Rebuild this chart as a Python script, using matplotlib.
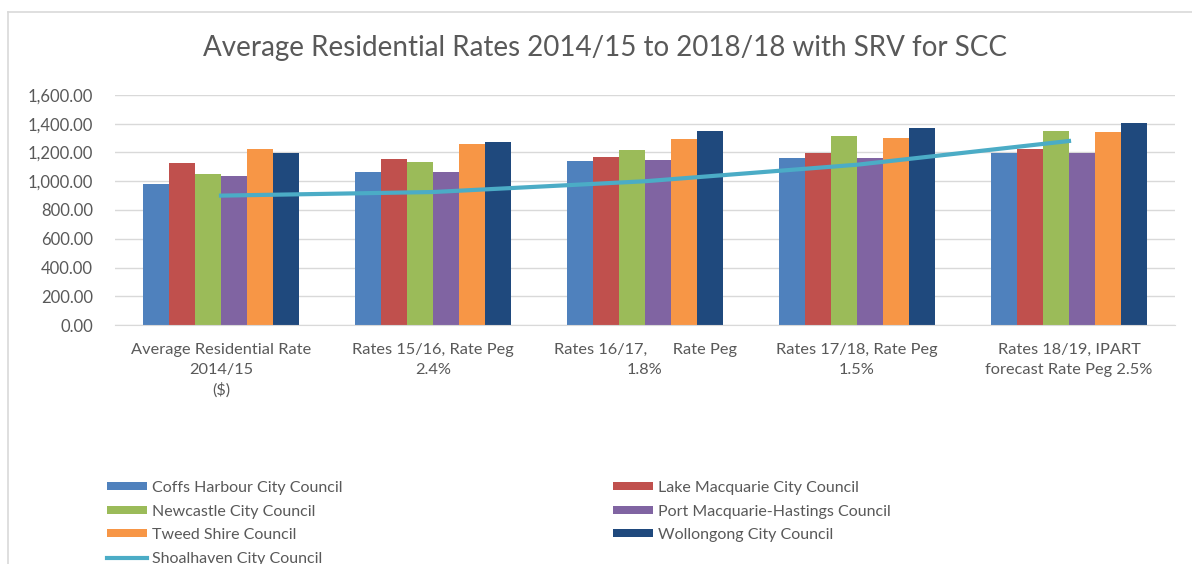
import numpy as np
import matplotlib
matplotlib.use("Agg")
import matplotlib.pyplot as plt
from matplotlib.lines import Line2D

plt.rcParams['font.family'] = ['Lato', 'DejaVu Sans']

categories = ["Average Residential Rate\n2014/15\n($)",
              "Rates 15/16, Rate Peg\n2.4%",
              "Rates 16/17,      Rate Peg\n1.8%",
              "Rates 17/18, Rate Peg\n1.5%",
              "Rates 18/19, IPART\nforecast Rate Peg 2.5%"]

coffs = [981, 1067, 1141, 1164, 1199]
lake = [1125, 1158, 1171, 1199, 1222]
newcastle = [1048, 1137, 1220, 1318, 1350]
port = [1039, 1067, 1151, 1164, 1199]
tweed = [1224, 1257, 1292, 1304, 1340]
wollongong = [1199, 1276, 1350, 1370, 1402]
shoalhaven = [900, 925, 1000, 1115, 1280]

names = ["Coffs Harbour City Council", "Lake Macquarie City Council",
         "Newcastle City Council", "Port Macquarie-Hastings Council",
         "Tweed Shire Council", "Wollongong City Council"]
colors = ["#4F81BD", "#C0504D", "#9BBB59", "#8064A2", "#F79646", "#1F497D"]
line_name = "Shoalhaven City Council"
line_color = "#4BACC6"

txt = "#595959"
fig = plt.figure(figsize=(11.92, 5.64), dpi=100)
ax = fig.add_axes([115/1192, 1-325/564, 1060/1192, 230/564])

x = np.arange(len(categories))
w = 0.122
series = [coffs, lake, newcastle, port, tweed, wollongong]
bars = []
for j, vals in enumerate(series):
    b = ax.bar(x + (j - 2.5) * w, vals, w, color=colors[j], label=names[j], zorder=2)
    bars.append(b)
ln, = ax.plot(x, shoalhaven, color=line_color, lw=3, zorder=3, label=line_name)

ax.set_xlim(-0.5, 4.5)
ax.set_ylim(0, 1600)
ax.set_yticks(np.arange(0, 1601, 200))
ax.set_yticklabels([f"{v:,.2f}" for v in np.arange(0, 1601, 200)], fontsize=12, color=txt)
ax.set_xticks(x)
ax.set_xticklabels(categories, fontsize=11.8, color=txt, linespacing=1.5)
ax.tick_params(axis='y', length=0, pad=16)
ax.tick_params(axis='x', length=0, pad=13)
ax.grid(axis='y', color='#D9D9D9', lw=1, zorder=0)
for s in ['left', 'right', 'top']:
    ax.spines[s].set_visible(False)
ax.spines['bottom'].set_color('#D9D9D9')

fig.text(605/1192, 1-48/564, "Average Residential Rates 2014/15 to 2018/18 with SRV for SCC",
         ha='center', va='center', fontsize=20, color=txt)

# chart frame (cropped)
fig.add_artist(Line2D([8/1192, 8/1192], [0, 1-12/564], color='#D9D9D9', lw=1.2))
fig.add_artist(Line2D([8/1192, 1], [1-12/564, 1-12/564], color='#D9D9D9', lw=1.2))

leg_kw = dict(frameon=False, fontsize=11.5, handlelength=2.5, handleheight=0.4,
              labelspacing=0.6, handletextpad=0.3, borderaxespad=0, borderpad=0,
              labelcolor=txt)
fig.legend([bars[0], bars[2], bars[4], ln],
           [names[0], names[2], names[4], line_name],
           loc='upper left', bbox_to_anchor=(107/1192, 1-481/564), **leg_kw)
fig.legend([bars[1], bars[3], bars[5]],
           [names[1], names[3], names[5]],
           loc='upper left', bbox_to_anchor=(613/1192, 1-481/564), **leg_kw)

fig.savefig("out.png", dpi=100)
